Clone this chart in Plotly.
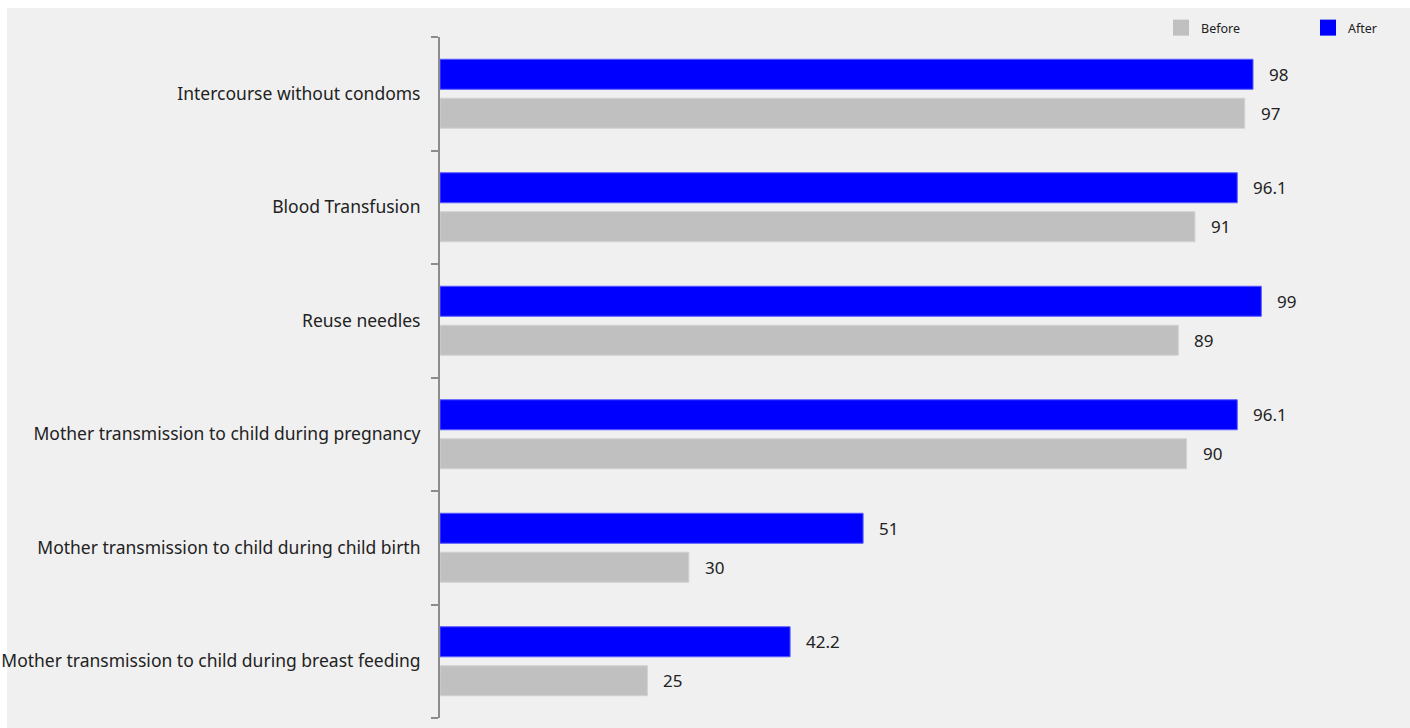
import plotly.graph_objects as go

# Share of respondents (%) who named each route of HIV transmission
categories = [
    "Intercourse without condoms",
    "Blood Transfusion",
    "Reuse needles",
    "Mother transmission to child during pregnancy",
    "Mother transmission to child during child birth",
    "Mother transmission to child during breast feeding",
]
before = [97, 91, 89, 90, 30, 25]
after = [98, 96.1, 99, 96.1, 51, 42.2]

BLUE = "#0000ff"
GREY = "#c0c0c0"
FONT = "Noto Sans"
TEXT = "#222222"

W, H = 1410, 728
L, R, T, B = 440, 0, 37, 10
PX_PER_UNIT = 8.296
plot_w = W - L - R
plot_h = H - T - B
x_max = plot_w / PX_PER_UNIT

fig = go.Figure()
fig.add_trace(go.Bar(
    name="Before", y=categories, x=before, orientation="h",
    marker=dict(color=GREY, line=dict(color="#d2d2d2", width=1)),
    hoverinfo="x+y", showlegend=False,
))
fig.add_trace(go.Bar(
    name="After", y=categories, x=after, orientation="h",
    marker=dict(color=BLUE, line=dict(color="#5a5aff", width=1)),
    hoverinfo="x+y", showlegend=False,
))

# legend entries with larger square swatches
for name, color in (("Before", GREY), ("After", BLUE)):
    fig.add_trace(go.Scatter(
        name=name, x=[None], y=[None], mode="markers",
        marker=dict(symbol="square", size=16, color=color),
        showlegend=True, hoverinfo="skip",
    ))

# value labels to the right of every bar
annotations = []
for vals, shift in ((after, 19.5), (before, -19.5)):
    for cat, v in zip(categories, vals):
        annotations.append(dict(
            x=v, y=cat, xref="x", yref="y", text=f"{v:g}",
            showarrow=False, xanchor="left", yanchor="middle",
            xshift=14, yshift=shift,
            font=dict(family=FONT, size=17, color=TEXT),
        ))

# grey panel behind the chart, leaving a thin white border top-left
panel = dict(
    type="rect", xref="paper", yref="paper", layer="below",
    x0=(7 - L) / plot_w, x1=1.02, y0=-B / plot_h - 0.01, y1=1 + (T - 8) / plot_h,
    fillcolor="#f0f0f0", line=dict(width=0),
)

fig.update_layout(
    width=W, height=H,
    margin=dict(l=L, r=R, t=T, b=B, pad=0, autoexpand=False),
    paper_bgcolor="white",
    plot_bgcolor="rgba(0,0,0,0)",
    barmode="group",
    bargap=0.313,
    bargroupgap=0.23,
    font=dict(family=FONT, size=17, color=TEXT),
    shapes=[panel],
    annotations=annotations,
    showlegend=True,
    legend=dict(
        orientation="h", x=(1161 - L) / plot_w, xanchor="left",
        y=1 + (T - 28) / plot_h, yanchor="middle",
        font=dict(family=FONT, size=12.5, color=TEXT),
        bgcolor="rgba(0,0,0,0)",
        entrywidth=102, entrywidthmode="pixels",
    ),
    xaxis=dict(
        range=[0, x_max], showgrid=False, zeroline=False,
        showticklabels=False, showline=False, ticks="", fixedrange=True,
    ),
    yaxis=dict(
        categoryorder="array", categoryarray=categories[::-1],
        showgrid=False, zeroline=False, automargin=False,
        showline=True, linecolor="#8c8c8c", linewidth=2,
        ticks="outside", ticklen=7, tickwidth=2, tickcolor="#8c8c8c",
        tickson="boundaries", ticklabelstandoff=14,
        tickfont=dict(family=FONT, size=17.5, color=TEXT),
    ),
)

fig.write_html("out.html")
